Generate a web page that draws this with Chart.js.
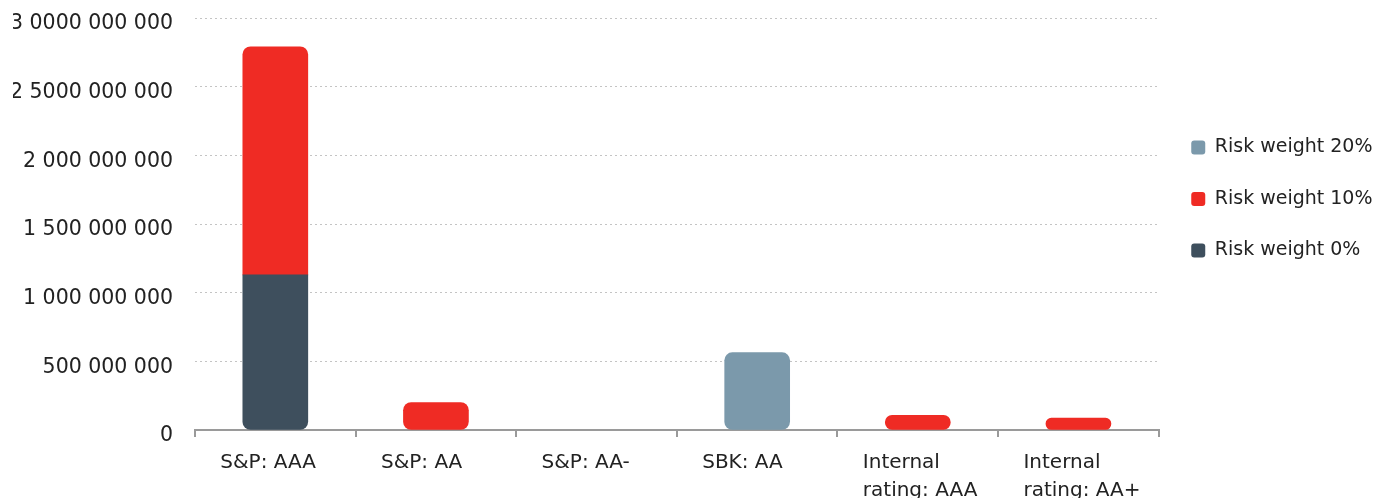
<!DOCTYPE html>
<html>
<head>
<meta charset="utf-8">
<script src="https://cdn.jsdelivr.net/npm/chart.js@4/dist/chart.umd.min.js"></script>
<style>
  html, body { margin: 0; padding: 0; background: #fff; overflow: hidden; }
  #wrap { position: absolute; left: 0; top: 0; width: 1381px; height: 517px; }
</style>
</head>
<body>
<div id="wrap"><canvas id="c" width="1381" height="517"></canvas></div>
<script>
const categories = ['S&P: AAA', 'S&P: AA', 'S&P: AA-', 'SBK: AA', ['Internal', 'rating: AAA'], ['Internal', 'rating: AA+']];
const riskWeight0 = [1130000000, null, null, null, null, null];
const riskWeight10 = [1660000000, 200000000, null, null, 107000000, 87000000];
const riskWeight20 = [null, null, null, 563000000, null, null];
const seriesNames = ['Risk weight 0%', 'Risk weight 10%', 'Risk weight 20%'];
const seriesColors = ['#3e4f5d', '#ef2b24', '#7b99ab'];
const yTickValues = [0, 500000000, 1000000000, 1500000000, 2000000000, 2500000000, 3000000000];
const yTickLabels = ['0', '500 000 000', '1 000 000 000', '1 500 000 000', '2 000 000 000', '2 5000 000 000', '3 0000 000 000'];

const seriesData = [riskWeight0, riskWeight10, riskWeight20];
const R = 8;
function radiusFor(ctx) {
  const di = ctx.datasetIndex, i = ctx.dataIndex;
  let below = false, above = false;
  for (let d = 0; d < seriesData.length; d++) {
    const v = seriesData[d][i];
    if (v == null || v === 0) continue;
    if (d < di) below = true;
    if (d > di) above = true;
  }
  return {
    topLeft: above ? 0 : R, topRight: above ? 0 : R,
    bottomLeft: below ? 0 : R, bottomRight: below ? 0 : R
  };
}

const FONT = "'DejaVu Sans', sans-serif";
new Chart(document.getElementById('c'), {
  type: 'bar',
  data: {
    labels: categories,
    datasets: seriesData.map((arr, k) => ({
      label: seriesNames[k],
      data: arr,
      backgroundColor: seriesColors[k],
      borderWidth: 0,
      borderSkipped: false,
      borderRadius: radiusFor,
      barThickness: 65
    }))
  },
  options: {
    responsive: false,
    devicePixelRatio: 1,
    animation: false,
    layout: { padding: { top: 0, left: 13, right: -1.5, bottom: 0 } },
    plugins: {
      tooltip: { enabled: false },
      legend: {
        position: 'right',
        align: 'start',
        reverse: true,
        title: { display: true, text: ' ', padding: { top: 91, bottom: 0 }, font: { size: 12 } },
        labels: {
          color: '#222',
          font: { family: FONT, size: 19 },
          boxWidth: 14,
          boxHeight: 14,
          padding: 32.5,
          useBorderRadius: true,
          borderRadius: 3
        }
      }
    },
    scales: {
      x: {
        stacked: true,
        offset: true,
        grid: { drawOnChartArea: false, drawTicks: true, tickLength: 7, color: '#9a9a9a', lineWidth: 2 },
        border: { display: true, color: '#9a9a9a', width: 2 },
        ticks: {
          color: '#222',
          font: { family: FONT, size: 20, lineHeight: 1.4 },
          padding: 12,
          align: 'start',
          labelOffset: -55,
          autoSkip: false,
          maxRotation: 0,
          minRotation: 0
        }
      },
      y: {
        stacked: true,
        min: 0,
        max: 3000000000,
        afterFit: function (scale) {
          scale.width = 182;
          scale.paddingTop = 18;
          scale.paddingBottom = 0;
        },
        grid: { drawTicks: false, color: '#c4c4c4', lineWidth: 1 },
        border: { display: false, dash: [2, 3] },
        ticks: {
          stepSize: 500000000,
          color: '#222',
          font: { family: FONT, size: 20.5 },
          padding: 22,
          labelOffset: 6,
          callback: function (value) {
            const idx = yTickValues.indexOf(value);
            return idx >= 0 ? yTickLabels[idx] : '';
          }
        }
      }
    }
  }
});
</script>
</body>
</html>
